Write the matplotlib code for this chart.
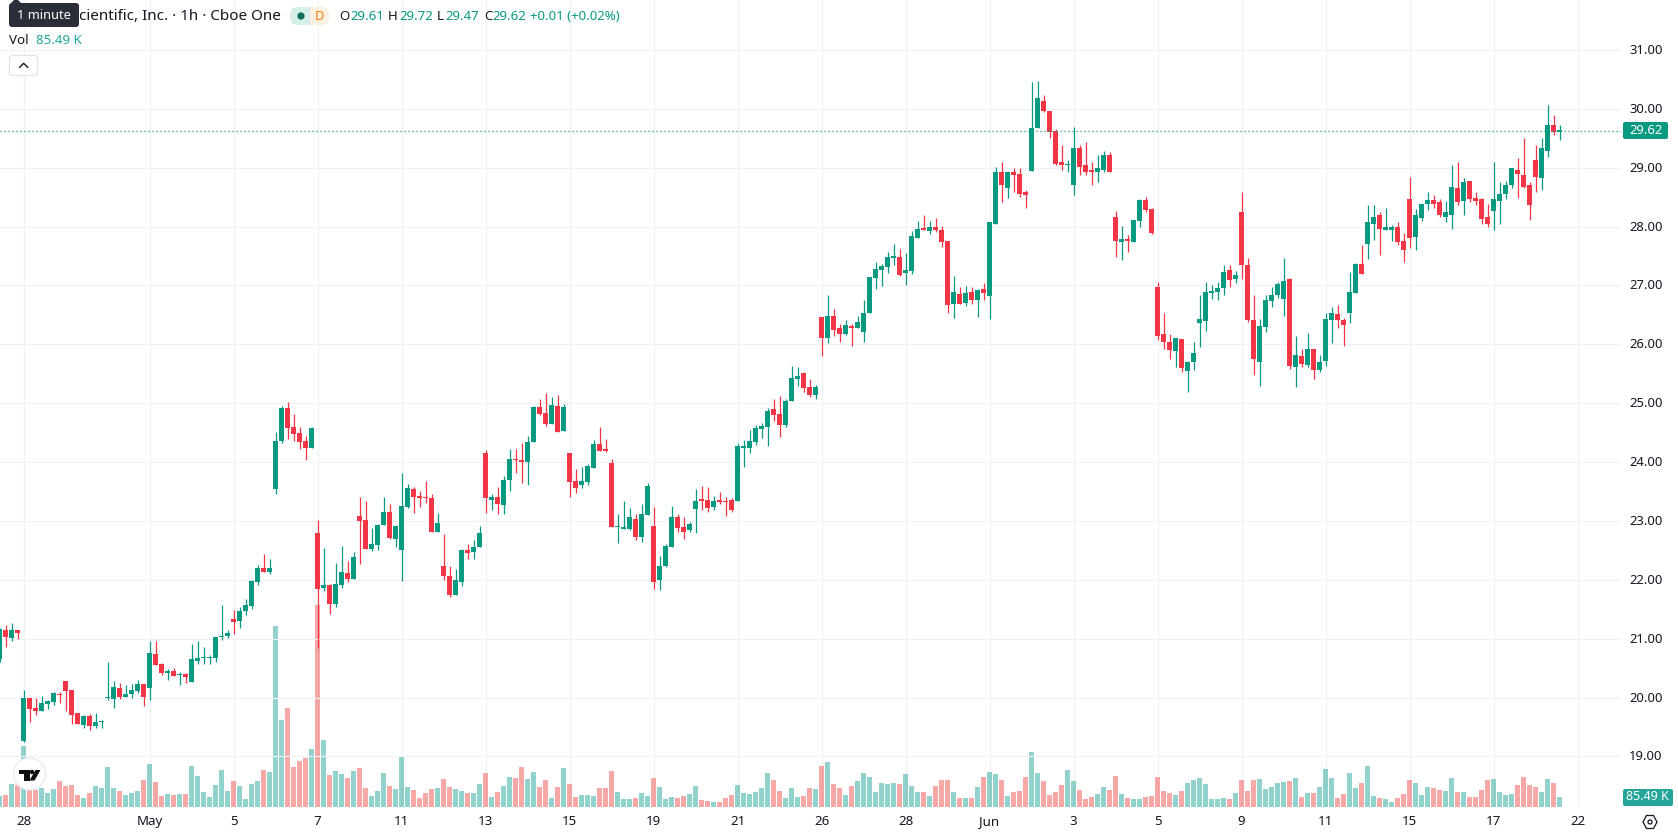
import matplotlib
matplotlib.use("Agg")
import matplotlib.pyplot as plt
import numpy as np
from matplotlib.patches import Circle, FancyBboxPatch, Polygon, Rectangle
from matplotlib.transforms import ScaledTranslation

plt.rcParams["font.family"] = ["Noto Sans", "DejaVu Sans"]

# Hourly OHLC session data, oldest bar first
opens = [
    20.65, 21.14, 21.01, 21.14, 19.26, 19.99, 19.82, 19.77, 19.89, 19.92,
    20.06, 20.28, 20.12, 19.73, 19.53, 19.68, 19.51, 19.58, 19.99, 19.97,
    20.16, 20.01, 20.06, 20.11, 20.23, 20.16, 20.74, 20.57, 20.41, 20.45,
    20.38, 20.40, 20.26, 20.62, 20.67, 20.67, 20.67, 21.02, 21.04, 21.33,
    21.30, 21.47, 21.55, 21.96, 22.20, 22.13, 23.54, 24.35, 24.92, 24.59,
    24.49, 24.35, 24.24, 22.79, 21.86, 21.91, 21.59, 21.91, 22.11, 22.01,
    23.08, 23.01, 22.52, 22.59, 22.93, 23.15, 22.69, 22.50, 23.23, 23.54,
    23.42, 23.40, 23.39, 22.82, 22.23, 22.07, 21.75, 21.97, 22.50, 22.47,
    22.55, 24.15, 23.35, 23.40, 23.27, 23.69, 24.05, 24.03, 24.00, 24.34,
    24.94, 24.84, 24.65, 24.95, 24.53, 24.15, 23.68, 23.61, 23.66, 23.90,
    24.31, 24.20, 23.98, 22.89, 22.87, 22.86, 23.03, 22.72, 23.10, 22.91,
    21.99, 22.23, 22.55, 23.06, 22.89, 22.84, 23.20, 23.35, 23.35, 23.23,
    23.35, 23.34, 23.35, 23.34, 24.24, 24.24, 24.34, 24.56, 24.60, 24.90,
    24.82, 24.63, 25.04, 25.41, 25.52, 25.28, 25.14, 26.47, 26.11, 26.48,
    26.28, 26.18, 26.31, 26.28, 26.21, 26.53, 27.13, 27.27, 27.32, 27.47,
    27.49, 27.21, 27.25, 27.81, 27.96, 27.93, 28.00, 27.95, 27.76, 26.69,
    26.86, 26.70, 26.89, 26.75, 26.94, 26.82, 28.05, 28.93, 28.66, 28.93,
    28.90, 28.59, 28.95, 29.67, 30.14, 29.97, 29.62, 29.10, 29.04, 28.71,
    29.34, 29.05, 28.97, 28.92, 28.97, 29.21, 28.17, 27.74, 27.79, 27.74,
    28.10, 28.46, 28.30, 26.98, 26.18, 26.04, 25.89, 26.09, 25.55, 25.70,
    26.37, 26.40, 26.88, 26.89, 26.96, 27.27, 27.11, 28.25, 27.35, 26.42,
    25.70, 26.30, 26.74, 26.84, 26.77, 27.11, 25.62, 25.80, 25.65, 25.92,
    25.57, 25.72, 26.42, 26.52, 26.42, 26.54, 26.88, 27.37, 27.71, 28.05,
    28.19, 27.95, 27.95, 28.00, 27.76, 28.47, 27.83, 28.15, 28.39, 28.46,
    28.42, 28.17, 28.19, 28.65, 28.44, 28.78, 28.49, 28.47, 28.17, 28.27,
    28.44, 28.56, 28.70, 28.97, 28.88, 28.70, 29.14, 28.82, 29.29, 29.73,
    29.61,
]
closes = [
    21.16, 21.02, 21.14, 21.09, 19.99, 19.80, 19.77, 19.90, 19.94, 20.07,
    20.04, 20.11, 19.70, 19.55, 19.68, 19.51, 19.58, 19.60, 20.01, 20.18,
    20.01, 20.06, 20.12, 20.23, 20.01, 20.75, 20.55, 20.41, 20.45, 20.36,
    20.40, 20.35, 20.65, 20.67, 20.69, 20.69, 21.02, 21.04, 21.09, 21.28,
    21.47, 21.57, 21.98, 22.20, 22.13, 22.20, 24.35, 24.92, 24.58, 24.47,
    24.34, 24.24, 24.58, 21.84, 21.91, 21.59, 21.93, 22.13, 22.01, 22.38,
    23.00, 22.52, 22.60, 22.93, 23.15, 22.71, 22.91, 23.25, 23.56, 23.40,
    23.39, 23.39, 22.82, 22.96, 22.06, 21.75, 21.99, 22.50, 22.45, 22.55,
    22.79, 23.39, 23.40, 23.28, 23.69, 24.05, 24.03, 24.00, 24.34, 24.94,
    24.82, 24.65, 24.97, 24.51, 24.94, 23.66, 23.56, 23.68, 23.93, 24.31,
    24.19, 24.19, 22.89, 22.91, 22.89, 23.06, 22.72, 23.11, 23.59, 21.97,
    22.24, 22.57, 23.06, 22.88, 22.82, 22.94, 23.34, 23.34, 23.22, 23.34,
    23.32, 23.32, 23.18, 24.27, 24.26, 24.36, 24.58, 24.61, 24.87, 24.80,
    24.63, 25.04, 25.43, 25.47, 25.26, 25.14, 25.28, 26.11, 26.48, 26.24,
    26.18, 26.33, 26.28, 26.38, 26.53, 27.15, 27.28, 27.33, 27.49, 27.49,
    27.18, 27.27, 27.84, 27.96, 27.95, 28.00, 27.95, 27.74, 26.67, 26.89,
    26.69, 26.87, 26.75, 26.93, 26.87, 28.07, 28.93, 28.70, 28.92, 28.88,
    28.56, 28.54, 29.68, 30.18, 29.96, 29.60, 29.07, 29.04, 29.05, 29.33,
    29.02, 28.92, 28.92, 28.99, 29.22, 28.92, 27.76, 27.79, 27.76, 28.12,
    28.46, 28.29, 27.90, 26.14, 26.04, 25.91, 26.11, 25.60, 25.70, 25.86,
    26.43, 26.89, 26.89, 26.96, 27.23, 27.10, 27.18, 27.34, 26.42, 25.75,
    26.32, 26.76, 26.84, 27.03, 27.08, 25.63, 25.82, 25.67, 25.92, 25.57,
    25.70, 26.43, 26.54, 26.42, 26.33, 26.89, 27.37, 27.20, 28.08, 28.17,
    27.96, 28.00, 28.00, 27.74, 27.61, 27.81, 28.20, 28.39, 28.46, 28.39,
    28.19, 28.25, 28.68, 28.41, 28.76, 28.47, 28.44, 28.13, 28.05, 28.47,
    28.56, 28.71, 28.99, 28.90, 28.68, 28.36, 28.85, 29.33, 29.73, 29.61,
    29.62,
]
highs = [
    21.18, 21.23, 21.26, 21.14, 20.13, 19.99, 19.99, 20.02, 19.95, 20.09,
    20.09, 20.28, 20.12, 19.73, 19.70, 19.72, 19.73, 19.61, 20.60, 20.28,
    20.24, 20.21, 20.23, 20.29, 20.23, 20.96, 20.96, 20.58, 20.48, 20.50,
    20.43, 20.41, 20.91, 20.96, 20.86, 20.72, 21.02, 21.57, 21.14, 21.48,
    21.53, 21.67, 22.00, 22.25, 22.43, 22.35, 24.51, 24.95, 25.02, 24.81,
    24.59, 24.44, 24.59, 23.01, 22.54, 21.93, 22.28, 22.57, 22.32, 22.47,
    23.40, 23.34, 22.88, 22.94, 23.40, 23.28, 22.93, 23.81, 23.62, 23.57,
    23.51, 23.68, 23.45, 23.13, 22.77, 22.24, 22.18, 22.53, 22.60, 22.67,
    22.91, 24.20, 23.45, 23.57, 23.76, 24.22, 24.22, 24.32, 24.44, 24.95,
    25.07, 25.18, 25.11, 25.14, 24.99, 24.15, 23.88, 23.91, 23.97, 24.38,
    24.60, 24.39, 24.05, 23.11, 23.34, 23.22, 23.11, 23.28, 23.64, 23.23,
    22.40, 22.60, 23.25, 23.11, 23.06, 22.99, 23.54, 23.59, 23.57, 23.42,
    23.49, 23.40, 23.39, 24.32, 24.38, 24.55, 24.63, 24.66, 24.92, 25.07,
    25.13, 25.07, 25.64, 25.62, 25.53, 25.41, 25.31, 26.47, 26.84, 26.60,
    26.35, 26.41, 26.35, 26.48, 26.75, 27.15, 27.40, 27.37, 27.57, 27.71,
    27.62, 27.56, 27.93, 28.10, 28.20, 28.10, 28.15, 28.01, 27.76, 27.16,
    26.98, 26.99, 26.98, 26.94, 27.04, 28.07, 29.02, 29.10, 28.93, 29.00,
    29.00, 28.63, 30.45, 30.47, 30.23, 29.97, 29.65, 29.38, 29.14, 29.70,
    29.38, 29.43, 29.09, 29.21, 29.29, 29.27, 28.27, 28.01, 27.86, 28.12,
    28.47, 28.51, 28.32, 27.06, 26.54, 26.18, 26.11, 26.09, 25.72, 26.04,
    26.84, 27.06, 27.01, 27.06, 27.34, 27.35, 27.25, 28.58, 27.47, 26.83,
    26.43, 26.84, 26.98, 27.06, 27.47, 27.13, 26.15, 25.92, 26.20, 25.92,
    25.82, 26.54, 26.64, 26.66, 26.45, 27.23, 27.39, 27.69, 28.36, 28.37,
    28.24, 28.32, 28.03, 28.08, 27.90, 28.85, 28.30, 28.39, 28.58, 28.53,
    28.47, 28.44, 29.04, 29.09, 28.82, 28.78, 28.58, 28.49, 28.39, 29.10,
    28.75, 28.78, 29.00, 29.17, 29.50, 28.76, 29.39, 29.50, 30.06, 29.89,
    29.72,
]
lows = [
    20.60, 20.86, 20.96, 20.99, 19.24, 19.58, 19.70, 19.77, 19.80, 19.87,
    19.90, 19.77, 19.55, 19.55, 19.48, 19.45, 19.48, 19.48, 19.95, 19.82,
    19.97, 20.01, 19.99, 20.07, 19.85, 19.95, 20.55, 20.38, 20.29, 20.36,
    20.21, 20.24, 20.26, 20.57, 20.57, 20.57, 20.60, 20.97, 21.01, 21.08,
    21.18, 21.40, 21.50, 21.91, 22.13, 22.10, 23.45, 24.32, 24.39, 24.35,
    24.22, 24.03, 24.24, 20.84, 21.81, 21.42, 21.53, 21.86, 21.96, 22.01,
    22.26, 22.52, 22.49, 22.50, 22.93, 22.69, 22.55, 21.98, 23.22, 23.13,
    23.23, 23.30, 22.82, 22.82, 21.99, 21.70, 21.75, 21.89, 22.36, 22.36,
    22.55, 23.13, 23.18, 23.11, 23.11, 23.51, 23.81, 23.64, 23.61, 24.34,
    24.80, 24.61, 24.65, 24.51, 24.53, 23.40, 23.47, 23.56, 23.61, 23.90,
    24.19, 24.17, 22.89, 22.62, 22.87, 22.84, 22.67, 22.65, 23.10, 21.85,
    21.82, 22.21, 22.55, 22.81, 22.70, 22.82, 22.79, 23.18, 23.15, 23.18,
    23.28, 23.08, 23.15, 23.34, 23.91, 24.15, 24.29, 24.41, 24.27, 24.70,
    24.43, 24.60, 25.04, 25.30, 25.19, 25.11, 25.07, 25.80, 26.02, 26.14,
    26.04, 26.16, 25.97, 26.28, 26.04, 26.53, 26.94, 26.99, 27.21, 27.35,
    27.16, 27.01, 27.20, 27.81, 27.95, 27.88, 27.91, 27.66, 26.53, 26.45,
    26.69, 26.65, 26.69, 26.47, 26.75, 26.43, 28.05, 28.42, 28.49, 28.58,
    28.51, 28.32, 28.95, 29.67, 29.94, 29.50, 29.04, 28.97, 28.92, 28.54,
    28.88, 28.88, 28.71, 28.75, 28.93, 28.92, 27.49, 27.44, 27.57, 27.74,
    28.00, 28.24, 27.88, 26.07, 25.92, 25.75, 25.62, 25.53, 25.19, 25.57,
    25.96, 26.23, 26.77, 26.76, 26.84, 26.98, 27.05, 27.11, 26.38, 25.48,
    25.29, 26.21, 26.64, 26.79, 26.49, 25.58, 25.28, 25.62, 25.62, 25.41,
    25.53, 25.63, 26.03, 26.28, 25.98, 26.37, 26.88, 27.20, 27.45, 27.78,
    27.51, 27.95, 27.76, 27.69, 27.40, 27.64, 27.61, 28.10, 28.29, 28.32,
    28.17, 28.08, 27.96, 28.36, 28.20, 28.41, 28.37, 28.05, 28.00, 27.95,
    28.05, 28.47, 28.65, 28.49, 28.66, 28.12, 28.59, 28.63, 29.19, 29.56,
    29.47,
]
# Traded volume per bar, in thousands of shares
volumes = [
    94, 103, 197, 188, 522, 145, 145, 162, 120, 154,
    222, 180, 188, 103, 77, 120, 180, 162, 342, 162,
    137, 103, 120, 137, 231, 368, 214, 94, 111, 103,
    111, 111, 351, 265, 128, 85, 188, 316, 137, 222,
    180, 68, 197, 222, 316, 299, 1548, 744, 846, 342,
    393, 419, 496, 1727, 573, 274, 308, 282, 248, 308,
    333, 162, 94, 137, 291, 180, 154, 428, 171, 145,
    77, 120, 154, 162, 239, 171, 154, 137, 120, 120,
    197, 291, 85, 128, 180, 257, 248, 342, 239, 299,
    171, 231, 77, 171, 333, 197, 85, 103, 103, 94,
    162, 162, 308, 128, 68, 68, 77, 120, 94, 248,
    171, 68, 85, 77, 94, 111, 180, 60, 51, 43,
    43, 77, 103, 188, 120, 111, 128, 162, 291, 231,
    137, 77, 162, 85, 94, 162, 154, 351, 385, 197,
    162, 103, 180, 222, 291, 257, 128, 205, 197, 205,
    197, 282, 180, 128, 128, 94, 180, 231, 231, 128,
    77, 77, 77, 171, 257, 299, 282, 231, 94, 128,
    137, 257, 470, 291, 222, 103, 128, 188, 316, 222,
    145, 68, 85, 111, 171, 145, 265, 111, 77, 68,
    68, 85, 94, 257, 137, 120, 103, 137, 205, 231,
    248, 197, 68, 68, 77, 68, 120, 231, 137, 231,
    239, 154, 171, 205, 214, 222, 248, 85, 120, 120,
    171, 325, 248, 77, 111, 291, 162, 205, 351, 94,
    77, 68, 43, 77, 111, 231, 205, 103, 171, 162,
    145, 137, 248, 128, 128, 85, 85, 145, 231, 239,
    128, 103, 111, 188, 257, 188, 171, 128, 239, 205,
    85.49,
]
first_bar = -4
tick_bars = [0, 21, 35, 49, 63, 77, 91, 105, 119, 133, 147, 161, 175, 189, 203, 217, 231, 245, 259]
tick_labels = ["28", "May", "5", "7", "11", "13", "15", "19", "21", "26", "28",
               "Jun", "3", "5", "9", "11", "15", "17", "22"]
price_ticks = [19, 20, 21, 22, 23, 24, 25, 26, 27, 28, 29, 30, 31]
header_name = "cientific, Inc. · 1h · Cboe One"

UP = "#089981"
DOWN = "#F23645"
VOL_UP = "#26A69A"
VOL_DOWN = "#EF5350"
GRID = "#F1F1F3"
INK = "#131722"

W, H = 1678, 835
PANE_R, PANE_B = 1621, 807
fig = plt.figure(figsize=(W / 100, H / 100), dpi=100, facecolor="white")
rect = [0, 1 - PANE_B / H, PANE_R / W, PANE_B / H]

o, c, hi, lo = map(np.array, (opens, closes, highs, lows))
vol = np.array(volumes)
bars = np.arange(len(o)) + first_bar
rising = c >= o

# Volume sits in its own pane behind the candles and carries the grid
ax_vol = fig.add_axes(rect)
ax_vol.set_xlim(-3.92, 266.25)
ax_vol.set_ylim(0, PANE_B * 8.549)
ax_vol.bar(bars, vol, width=0.86, color=np.where(rising, VOL_UP, VOL_DOWN), alpha=0.5, linewidth=0, zorder=2)
ax_vol.set_yticks([])
ax_vol.set_xticks(tick_bars)
ax_vol.set_xticklabels(tick_labels, fontsize=9.6, color=INK)
ax_vol.tick_params(axis="x", length=0, pad=6.0)
for label_obj, text in zip(ax_vol.get_xticklabels(), tick_labels):
    if text in ("May", "Jun"):
        label_obj.set_fontweight("bold")
ax_vol.grid(axis="x", color=GRID, linewidth=0.9, zorder=0)
for spine in ax_vol.spines.values():
    spine.set_visible(False)

# Price pane
ax = fig.add_axes(rect, sharex=ax_vol)
ax.patch.set_visible(False)
ax.set_ylim(18.14, 31.85)
ax.vlines(bars, lo, hi, colors=np.where(rising, UP, DOWN), linewidth=0.9, zorder=3, snap=True)
body_low = np.minimum(o, c)
body_h = np.maximum(np.abs(c - o), 0.025)
ax.bar(bars, body_h, bottom=body_low, width=0.86, color=np.where(rising, UP, DOWN), linewidth=0, zorder=4)
ax.yaxis.tick_right()
ax.set_yticks(price_ticks)
ax.set_yticklabels([f"{p:.2f}" for p in price_ticks], fontsize=9.4, color=INK)
ax.tick_params(axis="y", length=0, pad=6.0)
ax.tick_params(axis="x", length=0, labelbottom=False)
ax.grid(axis="y", color=GRID, linewidth=0.9, zorder=0)
ax.set_axisbelow(True)
nudge = ScaledTranslation(0, 1 / 100, fig.dpi_scale_trans)
for tick_text in ax.get_yticklabels():
    tick_text.set_transform(tick_text.get_transform() + nudge)
for spine in ax.spines.values():
    spine.set_visible(False)
ax.axhline(closes[-1], color=UP, linewidth=0.9, linestyle=(0, (1, 2.2)), zorder=5)

# Legend block, tags and icons use screen pixels on a full-figure layer
ui = fig.add_axes([0, 0, 1, 1], zorder=10)
ui.set_xlim(0, W)
ui.set_ylim(H, 0)
ui.axis("off")


def label(x, y, text, color=INK, size=9.4, ha="left", **kw):
    ui.text(x, y, text, color=color, fontsize=size, ha=ha, va="center", **kw)


def rounded(x0, y0, x1, y1, r, **kw):
    ui.add_patch(FancyBboxPatch((x0 + r, y0 + r), x1 - x0 - 2 * r, y1 - y0 - 2 * r,
                                boxstyle=f"round,pad={r},rounding_size={r}", **kw))


# Symbol line
label(79, 16.5, header_name, size=10.95)
rounded(290, 7, 329, 25, 8, facecolor="#D5EFE9", edgecolor="none")
rounded(310, 7, 329, 25, 8, facecolor="#FDF0E0", edgecolor="none")
ui.add_patch(Rectangle((310, 7), 6, 18, facecolor="#FDF0E0", edgecolor="none"))
ui.add_patch(Circle((301, 16), 3.6, facecolor="#0B6B5C", edgecolor="none"))
label(319, 16, "D", color="#F57C00", size=9.2, ha="center", fontweight="bold")
readout = [(339, "O", 350, "29.61"), (388, "H", 399, "29.72"),
           (437, "L", 445, "29.47"), (484, "C", 492, "29.62")]
for x0, name, x1, value in readout:
    label(x0, 16.5, name, size=9.5)
    label(x1, 16.5, value, color=UP, size=9.5)
label(530, 16.5, "+0.01 (+0.02%)", color=UP, size=9.5)

# Volume line
label(9, 40.5, "Vol", size=9.6)
label(36.5, 40.5, "85.49 K", color=VOL_UP, size=9.6)

# Collapse button
rounded(9.5, 55.5, 37.5, 75.5, 3, facecolor="white", edgecolor="#E0E3EB", linewidth=0.9)
ui.plot([19.5, 23.7, 27.9], [67.5, 63.3, 67.5], color=INK, linewidth=1.0, solid_capstyle="round")

# Tooltip over the symbol name
rounded(9, 3, 79, 27, 3, facecolor="#2A2E39", edgecolor="none")
ui.add_patch(Polygon([(11, 3), (16, -2), (21, 3)], facecolor="#2A2E39", edgecolor="none"))
label(44, 15.5, "1 minute", color="white", size=9.2, ha="center")

# Last price and last volume tags
rounded(1623, 122, 1668, 139, 2, facecolor=UP, edgecolor="none")
label(1645.5, 130, f"{closes[-1]:.2f}", color="white", size=9.4, ha="center")
rounded(1623, 789, 1673, 806, 2, facecolor=VOL_UP, edgecolor="none")
label(1647.5, 797, "85.49 K", color="white", size=9.0, ha="center")

# Settings glyph below the price scale
ui.add_patch(Polygon([(1643, 822), (1646.5, 815.5), (1653.5, 815.5), (1657, 822), (1653.5, 828.5), (1646.5, 828.5)],
                     facecolor="none", edgecolor=INK, linewidth=0.9))
ui.add_patch(Circle((1650, 822), 2.0, facecolor="none", edgecolor=INK, linewidth=0.9))

# Chart attribution badge
ui.add_patch(Circle((29.5, 774), 16, facecolor="white", edgecolor="#E8EAEE", linewidth=1.0))
ui.add_patch(Polygon([(19, 770), (29.5, 770), (29.5, 780.5), (23.5, 780.5), (23.5, 774), (19, 774)],
                     facecolor="#0F0F0F", edgecolor="none"))
ui.add_patch(Circle((32, 772), 2.2, facecolor="#0F0F0F", edgecolor="none"))
ui.add_patch(Polygon([(35.5, 770), (40.5, 770), (34.5, 780.5), (29.5, 780.5)], facecolor="#0F0F0F", edgecolor="none"))

fig.savefig("out.png", dpi=100, facecolor="white")
